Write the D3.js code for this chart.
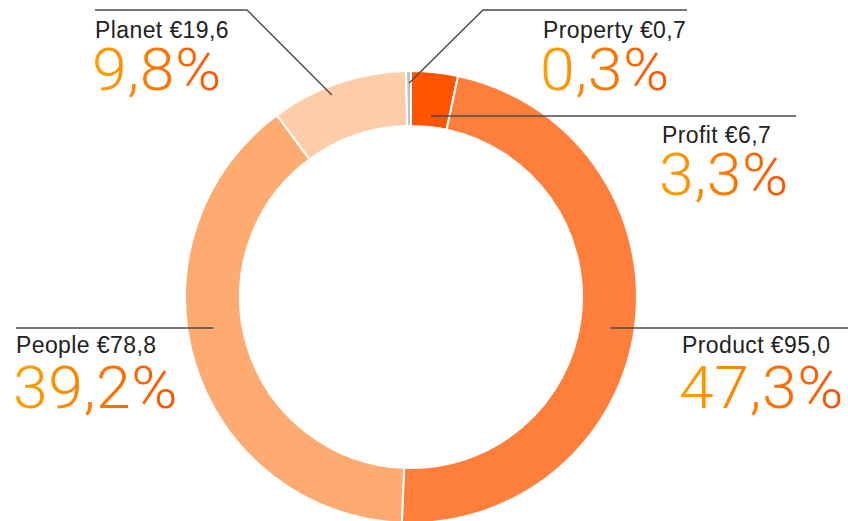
<!DOCTYPE html>
<html lang="en">
<head>
<meta charset="utf-8">
<title>Donut</title>
<script src="https://d3js.org/d3.v7.min.js"></script>
<style>
    body { margin: 0; background: #fff; }
    svg { display: block; }
    text.name {
        font-family: "Liberation Sans", Arial, sans-serif;
        font-size: 23px;
        letter-spacing: 0.4px;
        fill: #222;
    }
    text.pct {
        font-family: Roboto, "Liberation Sans", sans-serif;
        font-weight: 300;
        font-size: 59px;
        letter-spacing: 0.5px;
    }
    path.leader {
        fill: none;
        stroke: #4a4a4a;
        stroke-width: 1.4;
    }
</style>
</head>
<body>
<script>
// data, clockwise from 12 o'clock
let categories = ["Profit", "Product", "People", "Planet", "Property"];
let amounts = [6.7, 95.0, 78.8, 19.6, 0.7];
let amountLabels = ["€6,7", "€95,0", "€78,8", "€19,6", "€0,7"];
let percentLabels = ["3,3%", "47,3%", "39,2%", "9,8%", "0,3%"];
let colors = ["#ff5500", "#fe7f3c", "#feab72", "#ffcda8", "#b8bfc7"];

let W = 848, H = 521;
let cx = 411, cy = 297;
let outerR = 226, innerR = 171;

// label layout: where the texts sit, and where the leader touches the ring
let layout = {
    Profit:   { tx: 662, ty: 143, py: 195, angle: 6.3,   r: 182, lineY: 116, lineEnd: 796 },
    Product:  { tx: 682, ty: 353, py: 408, angle: 98.8,  r: 202, lineY: 328, lineEnd: 848 },
    People:   { tx: 16,  ty: 353, py: 408, angle: 261,   r: 200, lineY: 328, lineEnd: 16 },
    Planet:   { tx: 95,  ty: 38,  py: 90,  angle: 338.6, r: 217, lineY: 10,  lineEnd: 95,  elbowX: 247 },
    Property: { tx: 543, ty: 38,  py: 90,  angle: -0.5,  r: 214, lineY: 10,  lineEnd: 687, elbowX: 483 }
};

let svg = d3.select("body")
    .append("svg")
    .attr("width", W)
    .attr("height", H);

// gradient for the big percentages
let grad = svg.append("defs")
    .append("linearGradient")
    .attr("id", "pctGrad")
    .attr("x1", "0%").attr("x2", "100%")
    .attr("y1", "0%").attr("y2", "0%");
grad.append("stop").attr("offset", "0%").attr("stop-color", "#ffa200");
grad.append("stop").attr("offset", "100%").attr("stop-color", "#ff4f00");

let pie = d3.pie().sort(null).value(d => d);
let arc = d3.arc().innerRadius(innerR).outerRadius(outerR);

let g = svg.append("g")
    .attr("transform", "translate(" + cx + "," + cy + ")");

g.selectAll("path.slice")
    .data(pie(amounts))
    .enter()
    .append("path")
    .attr("class", "slice")
    .attr("d", arc)
    .attr("fill", (d, i) => colors[i])
    .attr("stroke", "#fff")
    .attr("stroke-width", 2);

// point on the ring (page coords) from angle in degrees
function polar(angleDeg, r) {
    let a = angleDeg * Math.PI / 180;
    return [cx + r * Math.sin(a), cy - r * Math.cos(a)];
}

categories.forEach((c, i) => {
    let L = layout[c];
    let p = polar(L.angle, L.r);
    let pts;
    if (L.elbowX !== undefined) {
        pts = [p, [L.elbowX, L.lineY], [L.lineEnd, L.lineY]];
    } else {
        pts = [[p[0], L.lineY], [L.lineEnd, L.lineY]];
    }
    svg.append("path")
        .attr("class", "leader")
        .attr("d", d3.line()(pts));

    svg.append("text")
        .attr("class", "name")
        .attr("x", L.tx)
        .attr("y", L.ty)
        .text(c + " " + amountLabels[i]);

    // slightly widened glyphs to mimic the wider light face
    svg.append("text")
        .attr("class", "pct")
        .attr("transform", "translate(" + (L.tx - 3) + "," + L.py + ") scale(1.06,1)")
        .attr("fill", "url(#pctGrad)")
        .text(percentLabels[i]);
});
</script>
</body>
</html>
